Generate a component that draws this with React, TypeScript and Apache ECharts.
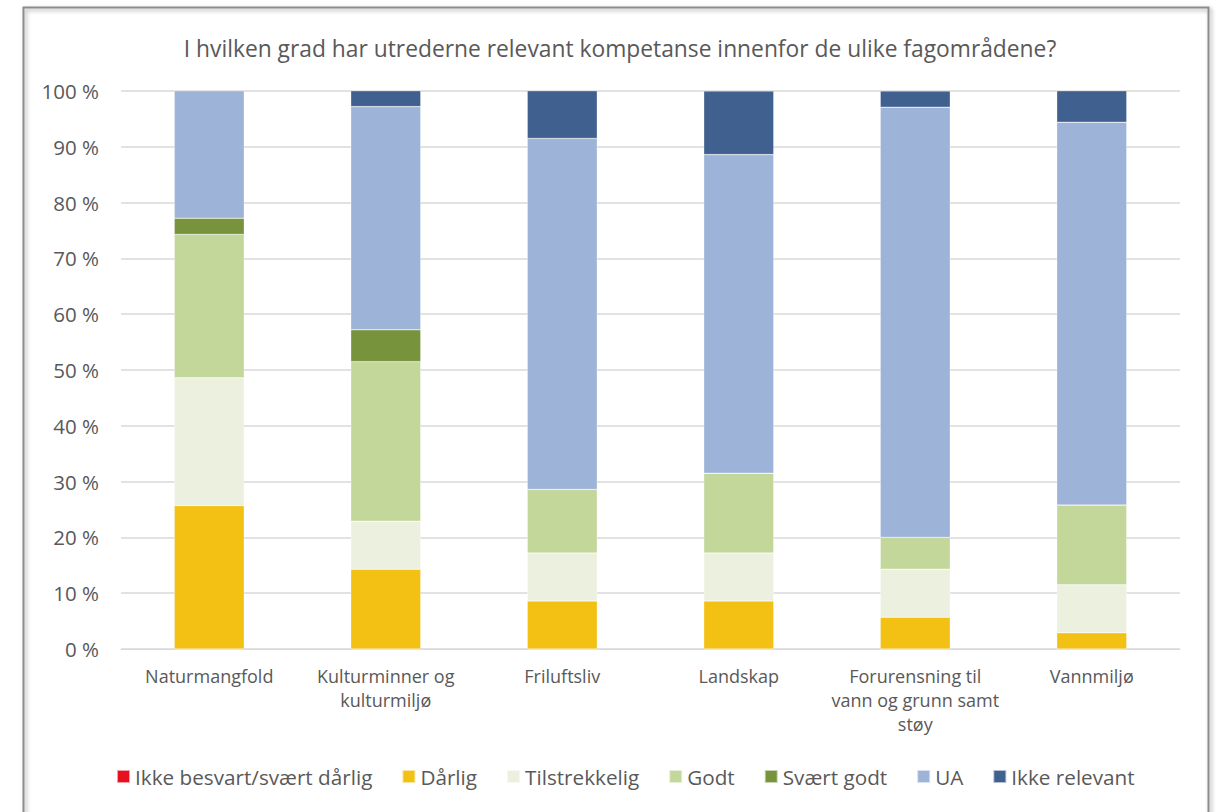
import React, { useEffect, useRef } from "react";
import * as echarts from "echarts";

const categories = [
  "Naturmangfold",
  "Kulturminner og\nkulturmiljø",
  "Friluftsliv",
  "Landskap",
  "Forurensning til\nvann og grunn samt\nstøy",
  "Vannmiljø",
];

const seriesNames = [
  "Ikke besvart/svært dårlig",
  "Dårlig",
  "Tilstrekkelig",
  "Godt",
  "Svært godt",
  "UA",
  "Ikke relevant",
];

const ikkeBesvart = [0, 0, 0, 0, 0, 0];
const darlig = [25.7, 14.3, 8.6, 8.6, 5.7, 2.9];
const tilstrekkelig = [22.9, 8.6, 8.6, 8.6, 8.6, 8.6];
const godt = [25.7, 28.6, 11.4, 14.3, 5.7, 14.3];
const svaertGodt = [2.9, 5.7, 0, 0, 0, 0];
const ua = [22.9, 40.0, 62.9, 57.1, 77.1, 68.6];
const ikkeRelevant = [0, 2.9, 8.6, 11.4, 2.9, 5.7];

const seriesData = [ikkeBesvart, darlig, tilstrekkelig, godt, svaertGodt, ua, ikkeRelevant];
const colors = ["#E8101E", "#F2C114", "#EBF1DE", "#C4D79B", "#77933C", "#9EB3D8", "#40618F"];

const yTicks = [0, 10, 20, 30, 40, 50, 60, 70, 80, 90, 100];

const FONT = "Open Sans";

export default function App() {
  const ref = useRef<HTMLDivElement>(null);
  useEffect(() => {
    if (!ref.current) return;
    const chart = echarts.init(ref.current, undefined, { renderer: "svg" });
    chart.setOption({
      animation: false,
      backgroundColor: "#ffffff",
      textStyle: { fontFamily: FONT },
      title: {
        text: "I hvilken grad har utrederne relevant kompetanse innenfor de ulike fagområdene?",
        left: 615,
        textAlign: "center",
        top: 32,
        textStyle: { fontFamily: FONT, fontSize: 22.8, fontWeight: "normal", color: "#595959" },
      },
      graphic: [
        {
          type: "rect",
          shape: { x: 23.5, y: 7.5, width: 1185, height: 830 },
          style: { fill: "none", stroke: "#8c8c8c", lineWidth: 2, shadowBlur: 4, shadowColor: "rgba(0,0,0,0.35)", shadowOffsetX: 2, shadowOffsetY: 2 },
          z: 100,
        },
      ],
      legend: {
        data: seriesNames,
        bottom: 20,
        left: 111,
        icon: "rect",
        itemWidth: 13,
        itemHeight: 13,
        itemGap: 29,
        textStyle: { fontFamily: FONT, fontSize: 20.7, color: "#595959", padding: [0, 0, 0, 0] },
      },
      grid: { left: 121, right: 38, top: 91, bottom: 163, containLabel: false },
      xAxis: {
        type: "category",
        data: categories,
        axisLine: { show: true, lineStyle: { color: "#d9d9d9", width: 1 } },
        axisTick: { show: false },
        axisLabel: { fontFamily: FONT, fontSize: 18, color: "#595959", margin: 15, lineHeight: 24, interval: 0 },
      },
      yAxis: {
        type: "value",
        min: 0,
        max: 100,
        interval: 10,
        axisLine: { show: false },
        axisTick: { show: false },
        splitLine: { lineStyle: { color: "#d9d9d9", width: 1.5 } },
        axisLabel: {
          fontFamily: FONT,
          fontSize: 20.5,
          color: "#595959",
          margin: 22,
          formatter: (v: number) => (yTicks.includes(v) ? `${v} %` : ""),
        },
      },
      series: seriesNames.map((name, i) => ({
        name,
        type: "bar",
        stack: "total",
        barWidth: 70,
        data: seriesData[i],
        itemStyle: { color: colors[i], borderColor: "rgba(255,255,255,0.6)", borderWidth: 0.5 },
      })),
    });
    return () => chart.dispose();
  }, []);
  return (
    <div
      ref={ref}
      style={{ position: "fixed", left: 0, top: 0, width: 1218, height: 812 }}
    />
  );
}
